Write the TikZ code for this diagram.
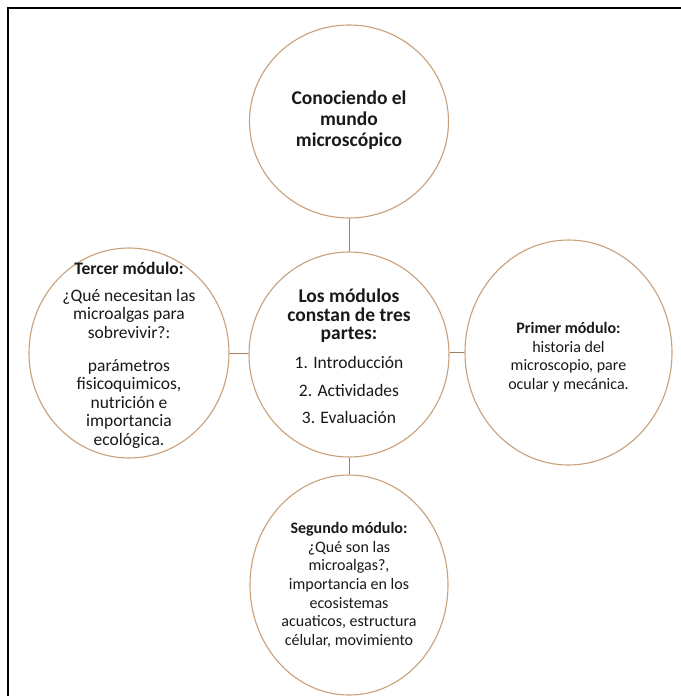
\documentclass[tikz,border=0pt]{standalone}
\usepackage{fontspec}
\setmainfont{Carlito}
\usetikzlibrary{shapes.geometric}
\definecolor{ring}{RGB}{200,160,122}
\definecolor{linkc}{RGB}{160,125,95}
\definecolor{ink}{RGB}{25,25,25}
\begin{document}
\begin{tikzpicture}[x=1pt,y=-1pt,
  bubble/.style={ellipse, draw=ring, line width=1.1pt, inner sep=0pt},
  linkline/.style={draw=linkc, line width=1pt},
  txt/.style={align=center, text=ink, inner sep=0pt, font=\fontsize{16}{18.5}\selectfont},
]
\useasboundingbox (0,0) rectangle (680,696);
\fill[white] (0,0) rectangle (680,696);
\draw[line width=2.5pt] (8,700) -- (8,8) -- (684,8);

% circles
\node[bubble, minimum width=199pt, minimum height=193pt] (top) at (349,121.5) {};
\node[bubble, minimum width=200pt, minimum height=205pt] (ctr) at (349,354.5) {};
\node[bubble, minimum width=200pt, minimum height=210pt] (left) at (129,353) {};
\node[bubble, minimum width=207pt, minimum height=225pt] (right) at (568.5,352.5) {};
\node[bubble, minimum width=198pt, minimum height=220pt] (bot) at (349,585) {};

% connectors
\draw[linkline] (top.south) -- (ctr.north);
\draw[linkline] (left.east) -- (left.east -| ctr.west);
\draw[linkline] (right.west) -- (right.west -| ctr.east);
\draw[linkline] (ctr.south) -- (bot.north);

% texts
\node[txt, font=\fontsize{19.5}{21}\bfseries] (toptext) at (349,120) {Conociendo el\\mundo\\microscópico};

\node[txt, font=\fontsize{19.5}{18.5}\bfseries] (ctrhead) at (349,316) {Los módulos\\constan de tres\\partes:};
\node[txt, font=\fontsize{17.5}{27.5}\selectfont] (ctrlist) at (349,390) {1. Introducción\\2. Actividades\\3. Evaluación};

\node[txt, font=\fontsize{17.5}{18.5}\selectfont] (lefttext) at (129,355) {\textbf{Tercer módulo:}\\[8.5pt]¿Qué necesitan las\\microalgas para\\sobrevivir?:\\[14.5pt]parámetros\\fisicoquimicos,\\nutrición e\\importancia\\ecológica.};

\node[txt] (righttext) at (568.5,357) {\textbf{Primer módulo:}\\historia del\\microscopio, pare\\ocular y mecánica.};

\node[txt, font=\fontsize{16}{18.7}\selectfont] (bottext) at (349,585) {\textbf{Segundo módulo:}\\¿Qué son las\\microalgas?,\\importancia en los\\ecosistemas\\acuaticos, estructura\\célular, movimiento};
\end{tikzpicture}
\end{document}
